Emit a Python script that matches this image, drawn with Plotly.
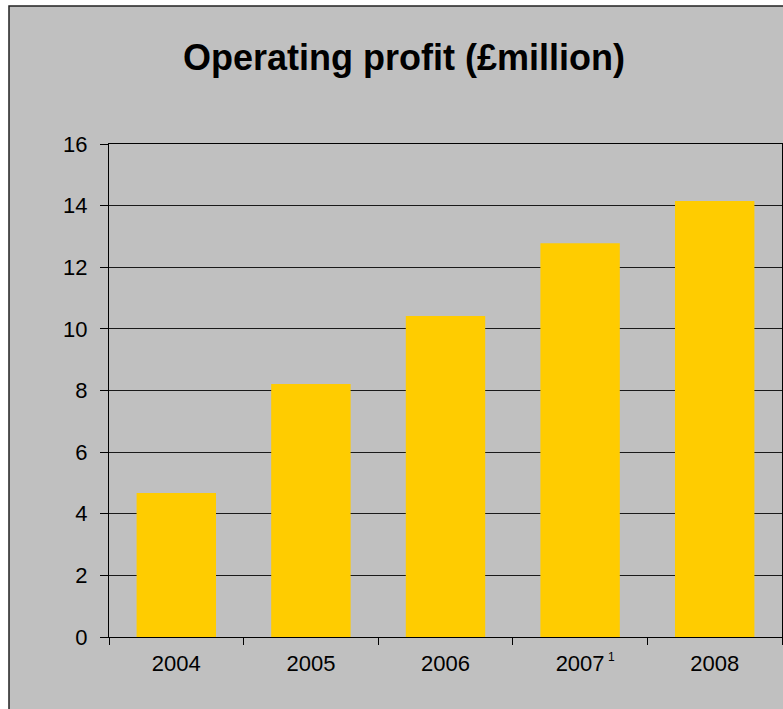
import plotly.graph_objects as go

# Operating profit by financial year (£ million)
years = ["2004", "2005", "2006", "2007", "2008"]
profit = [4.67, 8.21, 10.42, 12.78, 14.15]
y_ticks = [0, 2, 4, 6, 8, 10, 12, 14, 16]
footnote_year = "2007"
footnote_mark = "1"

BG = "#C0C0C0"
BAR = "#FFCC00"
FONT = "Liberation Sans, Arial, sans-serif"

fig = go.Figure(
    go.Bar(
        x=years,
        y=profit,
        marker=dict(color=BAR, line=dict(width=0)),
        hoverinfo="x+y",
    )
)

fig.update_layout(
    width=783,
    height=709,
    margin=dict(l=109, r=1, t=144, b=72),
    paper_bgcolor="white",
    plot_bgcolor=BG,
    bargap=0.41,
    showlegend=False,
    font=dict(family=FONT, color="black", size=22),
    title=dict(
        text="<b>Operating profit (£million)</b>",
        font=dict(family=FONT, size=36, color="black"),
        x=404 / 783,
        xanchor="center",
        xref="container",
        y=1 - 57 / 709,
        yanchor="middle",
        yref="container",
    ),
    shapes=[
        # chart frame, running off the right and bottom edges
        dict(
            type="rect",
            xref="paper",
            yref="paper",
            x0=-100 / 673,
            x1=1.2,
            y0=-0.3,
            y1=(637 - 6) / 493,
            fillcolor=BG,
            line=dict(color="#222222", width=1.5),
            layer="below",
        )
    ],
)

fig.update_xaxes(
    type="category",
    categoryorder="array",
    categoryarray=years,
    range=[-0.5, len(years) - 0.5],
    tickson="boundaries",
    ticks="outside",
    ticklen=7,
    tickcolor="black",
    tickwidth=1,
    showline=True,
    linecolor="black",
    linewidth=1,
    mirror=True,
    showgrid=False,
    tickangle=0,
    tickfont=dict(family=FONT, size=22, color="black"),
    ticklabelstandoff=7,
)

fig.update_yaxes(
    range=[0, 16],
    tickvals=y_ticks,
    ticks="outside",
    ticklen=8,
    tickcolor="black",
    tickwidth=1,
    showline=True,
    linecolor="black",
    linewidth=1,
    mirror=True,
    showgrid=True,
    gridcolor="#1a1a1a",
    gridwidth=1.2,
    zeroline=False,
    tickfont=dict(family=FONT, size=22, color="black"),
    ticklabelstandoff=8,
)

# footnote marker next to the 2007 label (category index on the x axis)
fig.add_annotation(
    x=years.index(footnote_year),
    y=0,
    xref="x",
    yref="y",
    text=footnote_mark,
    showarrow=False,
    font=dict(family=FONT, size=12, color="black"),
    xshift=26,
    yshift=-20,
    xanchor="left",
    yanchor="middle",
)

fig.write_html("out.html")
